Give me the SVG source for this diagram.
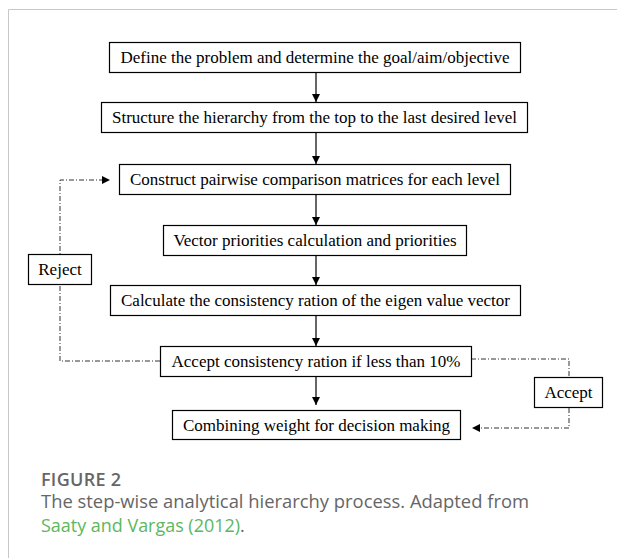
<svg xmlns="http://www.w3.org/2000/svg" width="617" height="558" viewBox="0 0 617 558">
<style>
.box{fill:#fff;stroke:#000;stroke-width:1.2}
.t{font-family:"Liberation Serif","Times New Roman",serif;font-size:17px;fill:#000;text-anchor:middle}
.arr{stroke:#000;stroke-width:1.2;fill:none;marker-end:url(#ah)}
.dd{stroke:#333;stroke-width:1;fill:none;stroke-dasharray:5,2,1,2}
.cap{font-family:"Open Sans","Noto Sans",sans-serif;font-size:18px;fill:#666}
</style>
<defs>
<marker id="ah" viewBox="0 0 10 10" refX="10" refY="5" markerWidth="8" markerHeight="8" markerUnits="userSpaceOnUse" orient="auto">
<path d="M0,0 L10,5 L0,10 z" fill="#000"/>
</marker>
</defs>
<rect x="0" y="0" width="617" height="558" fill="#fff"/>
<path d="M8.5,558 V9.5 H617" fill="none" stroke="#c8c8c8" stroke-width="1"/>
<g id="connectors">
<line class="arr" x1="316" y1="72" x2="316" y2="102"/>
<line class="arr" x1="316" y1="132" x2="316" y2="164"/>
<line class="arr" x1="316" y1="194" x2="316" y2="225"/>
<line class="arr" x1="316" y1="255" x2="316" y2="285"/>
<line class="arr" x1="316" y1="315" x2="316" y2="346"/>
<line class="arr" x1="316" y1="376" x2="316" y2="405"/>
<path class="dd" d="M160,361 H60 V180 H102"/>
<path d="M102,176 L110,180 L102,184 z" fill="#000"/>
<path class="dd" d="M471,359 H569 V377"/>
<path class="dd" d="M569,408 V428 H480"/>
<path d="M480,424 L472,428 L480,432 z" fill="#000"/>
</g>
<g id="n1"><rect class="box" x="109.5" y="42.5" width="411" height="30"/><text class="t" x="315" y="63">Define the problem and determine the goal/aim/objective</text></g>
<g id="n2"><rect class="box" x="101.5" y="102.5" width="426" height="30"/><text class="t" x="314.5" y="123">Structure the hierarchy from the top to the last desired level</text></g>
<g id="n3"><rect class="box" x="119.5" y="164.5" width="391" height="30"/><text class="t" x="315" y="185">Construct pairwise comparison matrices for each level</text></g>
<g id="n4"><rect class="box" x="163.5" y="225.5" width="303" height="30"/><text class="t" x="315" y="246">Vector priorities calculation and priorities</text></g>
<g id="n5"><rect class="box" x="110.5" y="285.5" width="410" height="30"/><text class="t" x="315.5" y="306">Calculate the consistency ration of the eigen value vector</text></g>
<g id="n6"><rect class="box" x="160.5" y="346.5" width="311" height="30"/><text class="t" x="316" y="367">Accept consistency ration if less than 10%</text></g>
<g id="n7"><rect class="box" x="172.5" y="410.5" width="288" height="29"/><text class="t" x="316.5" y="431">Combining weight for decision making</text></g>
<g id="reject"><rect class="box" x="28.5" y="254.5" width="63" height="30"/><text class="t" x="60" y="275">Reject</text></g>
<g id="accept"><rect class="box" x="534.5" y="377.5" width="68" height="30"/><text class="t" x="568.5" y="398">Accept</text></g>
<text class="cap" x="41" y="486" font-weight="600" font-size="17" textLength="80">FIGURE 2</text>
<text class="cap" x="41" y="508" textLength="488" lengthAdjust="spacingAndGlyphs">The step-wise analytical hierarchy process. Adapted from</text>
<text class="cap" x="41" y="532"><tspan style="fill:#5cb85c" textLength="199" lengthAdjust="spacingAndGlyphs">Saaty and Vargas (2012)</tspan>.</text>
</svg>
